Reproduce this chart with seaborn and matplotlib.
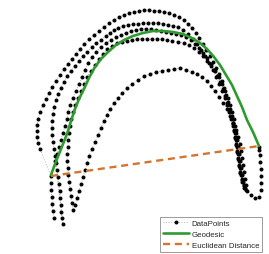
import numpy as np
import pandas as pd
import matplotlib
matplotlib.use('Agg')
import matplotlib.pyplot as plt
import seaborn as sns

# embedding coordinates of the trajectory (y grows downwards)
arch_a_x = [54, 53, 52, 52, 51, 51, 51, 40, 38, 37, 37, 37, 38, 40, 43, 46, 49, 52, 56, 60, 64, 68, 72, 76, 80, 84, 89, 94, 99, 104,
            109, 114, 119, 124, 129, 134, 139, 144, 149, 154, 159, 164, 169, 174, 179, 184, 188, 192, 196, 199, 203, 206, 210, 213,
            216, 219, 222, 224, 226, 228, 230, 232, 233, 234, 235, 236, 237, 238, 239, 240, 242, 244, 246]
arch_a_y = [219, 212, 205, 198, 191, 184, 177, 150, 144, 138, 132, 126, 120, 113, 106, 100, 94, 88, 82, 76, 70, 65, 60, 55, 50, 45, 40, 36, 32, 28,
            24, 21, 18, 16, 14, 13, 12, 11, 11, 12, 12, 13, 14, 16, 18, 21, 25, 29, 34, 39, 45, 51, 57, 63,
            69, 75, 82, 89, 96, 103, 110, 117, 124, 131, 138, 145, 152, 159, 166, 173, 180, 186, 191]

arch_b_x = [244, 242, 241, 240, 239, 238, 237, 236, 235, 233, 231, 229, 227, 225, 222, 219, 216, 213, 209, 205, 201, 197, 193, 188,
            183, 178, 173, 168, 163, 158, 153, 148, 143, 138, 133, 128, 123, 118, 114, 110, 106, 101, 96, 92, 87, 83, 79, 75, 71, 67,
            64, 61, 58, 56, 54, 53, 52, 52, 52, 53, 54, 55, 56, 57, 58, 59, 60, 60, 61, 61, 62, 63]
arch_b_y = [189, 183, 176, 169, 162, 155, 148, 141, 134, 127, 120, 113, 106, 99, 92, 85, 78, 71, 64, 57, 51, 45, 40, 35,
            31, 28, 27, 26, 25, 24, 24, 24, 24, 25, 25, 26, 27, 29, 31, 34, 37, 41, 44, 48, 53, 57, 62, 67, 72, 77,
            83, 89, 95, 101, 108, 115, 122, 129, 136, 143, 150, 157, 164, 171, 178, 185, 192, 199, 206, 213, 219, 225]

arch_c_x = [55, 57, 59, 61, 63, 65, 67, 68, 70, 73, 76, 79, 82, 85, 88, 92, 96, 101, 106, 111, 116, 121, 126, 131, 136, 141, 146,
            151, 156, 161, 166, 171, 176, 181, 186, 191, 195, 199, 203, 207, 211, 214, 217, 220, 223, 225, 227, 229, 231, 233, 234,
            235, 236, 237, 238, 239, 240, 242, 244]
arch_c_y = [162, 155, 148, 141, 134, 127, 120, 113, 106, 99, 92, 85, 78, 71, 64, 58, 53, 48, 44, 41, 38, 36, 34, 32, 31, 30, 30,
            30, 31, 32, 33, 34, 35, 36, 38, 41, 45, 49, 54, 59, 65, 71, 77, 83, 90, 97, 104, 111, 118, 125, 132,
            139, 146, 153, 160, 167, 174, 181, 187]

arch_d_x = [245, 243, 242, 241, 240, 239, 238, 237, 236, 235, 234, 232, 230, 228, 225, 222, 219, 215, 211, 207, 203, 199, 194, 189,
            184, 178, 172, 167, 162, 157, 152, 147, 142, 137, 132, 127, 122, 117, 112, 107, 103, 99, 95, 91, 87, 84, 81, 78, 75,
            73, 71, 70, 69, 68, 68, 67, 67, 68, 68, 69, 70, 71, 72, 73]
arch_d_y = [189, 183, 176, 169, 162, 155, 148, 141, 134, 127, 120, 113, 106, 99, 92, 85, 78, 72, 67, 62, 57, 53, 49, 46,
            44, 43, 42, 41, 40, 40, 40, 40, 40, 40, 41, 42, 43, 44, 47, 50, 55, 60, 66, 72, 78, 85, 92, 99, 106,
            113, 120, 127, 134, 141, 148, 155, 162, 169, 176, 183, 190, 197, 204, 211]

arch_e_x = [75, 77, 79, 81, 83, 85, 87, 89, 92, 95, 98, 101, 104, 107, 110, 114, 118, 122, 127, 132, 138, 144, 150, 156, 162, 168,
            174, 180, 186, 192, 197, 202, 207, 211, 215, 219, 223, 227, 230, 233, 236, 238, 240, 241, 242, 243, 244, 245, 246,
            247, 251, 255, 259, 261, 261, 261, 261, 260, 260, 259, 259]
arch_e_y = [206, 199, 192, 185, 178, 171, 164, 157, 150, 143, 136, 129, 122, 116, 110, 104, 99, 94, 89, 85, 81, 77, 75, 73, 72, 71,
            70, 69, 71, 73, 75, 78, 82, 87, 92, 98, 104, 110, 117, 124, 131, 138, 145, 152, 159, 166, 173, 180, 186,
            192, 196, 199, 198, 191, 184, 177, 170, 163, 156, 151, 148]

geo_x = [51, 55, 59, 63, 67, 71, 75, 79, 84, 89, 95, 101, 108, 116, 124, 133, 143, 153, 163, 173, 183, 192, 200, 207, 214,
         220, 226, 232, 237, 242, 247, 253, 259]
geo_y = [176, 165, 155, 145, 135, 122, 110, 100, 90, 79, 68, 60, 53, 46, 41, 37, 34, 32, 32, 33, 35, 39, 44, 50, 58,
         66, 76, 86, 97, 108, 121, 133, 147]

eucl_x = [51, 259]
eucl_y = [177, 147]

pts = pd.DataFrame({
    'x': arch_a_x + arch_b_x + arch_c_x + arch_d_x + arch_e_x,
    'y': arch_a_y + arch_b_y + arch_c_y + arch_d_y + arch_e_y,
})

sns.set_style('white')
plt.rcParams['font.family'] = ['Liberation Sans', 'DejaVu Sans']

fig = plt.figure(figsize=(2.69, 2.55), dpi=100)
ax = fig.add_axes([0, 0, 1, 1])

sns.lineplot(data=pts, x='x', y='y', sort=False, estimator=None, ax=ax,
             color='#b4b4b4', linestyle=':', linewidth=0.7,
             marker='o', markersize=2.1, markerfacecolor='k', markeredgecolor='k',
             label='DataPoints')
sns.lineplot(x=geo_x, y=geo_y, sort=False, estimator=None, ax=ax,
             color='#2f9a2f', linewidth=1.9, label='Geodesic')
sns.lineplot(x=eucl_x, y=eucl_y, sort=False, estimator=None, ax=ax,
             color='#d4742f', linewidth=1.7, linestyle=(0, (3, 2)), label='Euclidean Distance')

ax.set_xlim(0, 269)
ax.set_ylim(255, 0)
ax.axis('off')

leg = ax.legend(loc='lower right', bbox_to_anchor=(262 / 269, 2 / 255), borderaxespad=0,
                fontsize=5.7, handlelength=3.2, handletextpad=0.4, labelspacing=0.45,
                borderpad=0.35, fancybox=False, framealpha=1, edgecolor='#8c8c8c')
leg.get_frame().set_linewidth(0.6)

fig.savefig('out.png', dpi=100)
